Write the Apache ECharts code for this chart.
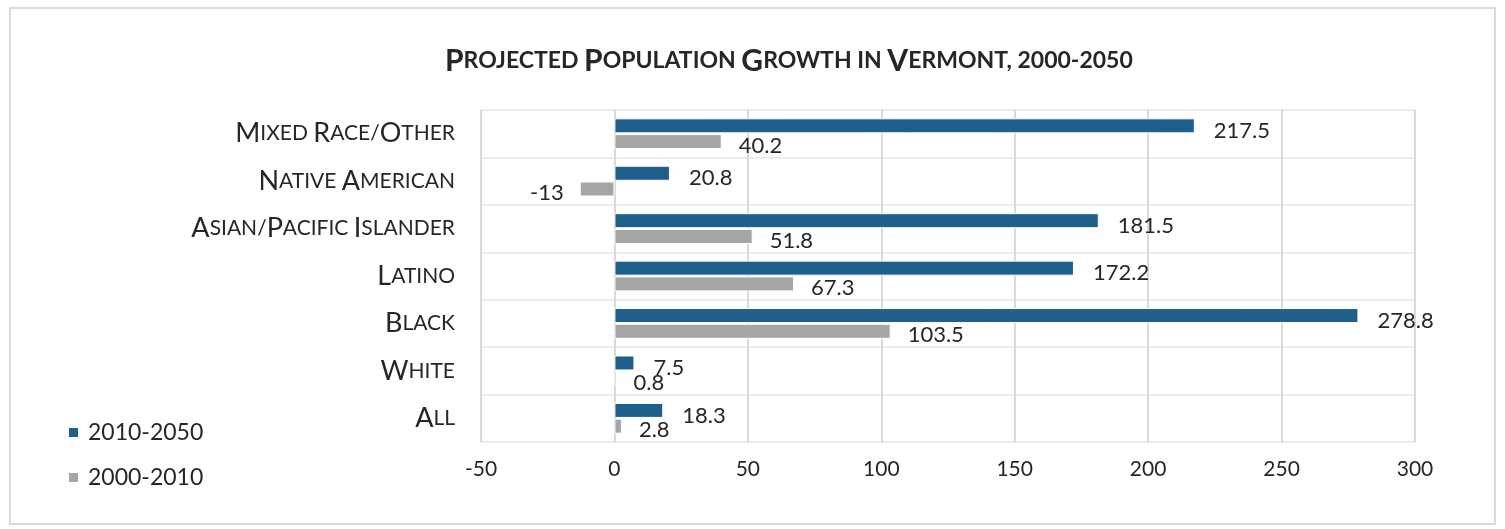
<!DOCTYPE html>
<html><head><meta charset="utf-8">
<script src="https://cdn.jsdelivr.net/npm/echarts@6/dist/echarts.min.js"></script>
<style>html,body{margin:0;padding:0;background:#fff}#c{width:1505px;height:529px}</style>
</head><body><div id="c"></div>
<script>
const categories = ['All','White','Black','Latino','Asian/Pacific Islander','Native American','Mixed Race/Other'];
const s2010_2050 = [18.3, 7.5, 278.8, 172.2, 181.5, 20.8, 217.5];
const s2000_2010 = [2.8, 0.8, 103.5, 67.3, 51.8, -13, 40.2];
const xTicks = [-50, 0, 50, 100, 150, 200, 250, 300];

const FONT = 'Lato';
function smallCaps(str, big, small) {
  let out = '';
  const words = str.split(' ');
  words.forEach((w, wi) => {
    let buf = '', mode = null;
    const flush = () => { if (buf) { out += '{' + mode + '|' + buf + '}'; buf = ''; } };
    for (const ch of w) {
      const isUpper = ch !== ch.toLowerCase() && ch === ch.toUpperCase();
      const m = isUpper ? big : small;
      if (m !== mode) { flush(); mode = m; }
      buf += ch.toUpperCase();
    }
    if (wi < words.length - 1) buf += ' ';
    flush();
  });
  return out;
}

const chart = echarts.init(document.getElementById('c'), null, {renderer: 'canvas'});
const labelStyle = {color: '#262626', fontFamily: FONT, fontSize: 22};
chart.setOption({
  animation: false,
  backgroundColor: '#fff',
  graphic: [{type: 'rect', shape: {x: 10, y: 8, width: 1485, height: 516}, style: {fill: 'none', stroke: '#d9d9d9', lineWidth: 2}, silent: true}],
  title: {
    text: smallCaps('Projected Population Growth in Vermont, 2000-2050', 'b', 's'),
    left: 440, top: 41,
    textStyle: {
      rich: {
        b: {fontFamily: FONT, fontWeight: 'bold', fontSize: 30, color: '#262626'},
        s: {fontFamily: FONT, fontWeight: 'bold', fontSize: 23, color: '#262626'}
      }
    }
  },
  legend: {
    orient: 'vertical', left: 62, top: 416, itemGap: 22,
    itemWidth: 11, itemHeight: 11, icon: 'rect',
    data: ['2010-2050', '2000-2010'],
    textStyle: {fontFamily: FONT, fontSize: 23, color: '#262626', padding: [0,0,0,4]}
  },
  grid: {left: 481, right: 90, top: 110, bottom: 87, containLabel: false},
  xAxis: {
    type: 'value', min: -50, max: 300, interval: 50,
    axisLine: {show: false}, axisTick: {show: false},
    splitLine: {lineStyle: {color: '#d9d9d9', width: 2}},
    axisLabel: {fontFamily: FONT, fontSize: 21, color: '#262626', margin: 17,
      formatter: v => xTicks.includes(v) ? String(v) : ''}
  },
  yAxis: {
    type: 'category', data: categories,
    axisLine: {show: false},
    axisTick: {show: false},
    splitLine: {show: true, lineStyle: {color: '#e9edec', width: 2}},
    axisLabel: {
      margin: 26,
      formatter: v => smallCaps(v, 'b', 's'),
      rich: {
        b: {fontFamily: FONT, fontSize: 27, color: '#262626'},
        s: {fontFamily: FONT, fontSize: 21, color: '#262626'}
      }
    }
  },
  series: [
    {
      name: '2010-2050', type: 'bar', data: s2010_2050,
      barWidth: 15, barGap: '5%',
      itemStyle: {color: '#1f5f8b', borderColor: '#fff', borderWidth: 1},
      label: Object.assign({show: true, position: 'right', distance: 19, offset: [0, 5]}, labelStyle)
    },
    {
      name: '2000-2010', type: 'bar', data: s2000_2010.map(v => v < 0 ? {value: v, label: {position: 'left', distance: 16}} : v),
      barWidth: 15, barGap: '5%',
      itemStyle: {color: '#a5a5a5', borderColor: '#fff', borderWidth: 1},
      label: Object.assign({show: true, position: 'right', distance: 17, offset: [0, 4]}, labelStyle)
    }
  ]
});
</script></body></html>
